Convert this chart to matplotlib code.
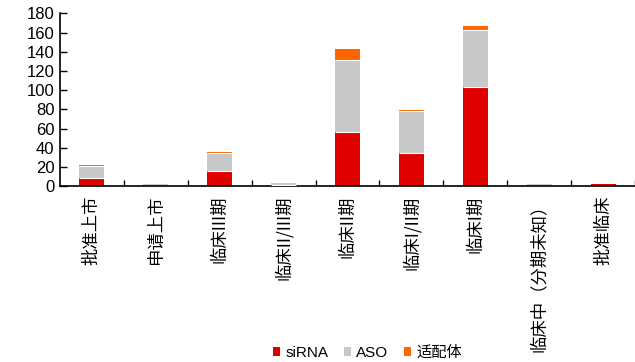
import matplotlib
matplotlib.use('Agg')
import matplotlib.pyplot as plt
import numpy as np

plt.rcParams['font.family'] = ['Liberation Sans', 'Noto Sans CJK SC', 'DejaVu Sans']

# 各研发阶段的寡核苷酸药物数量
stages = ['批准上市', '申请上市', '临床III期', '临床II/III期', '临床II期',
          '临床I/II期', '临床I期', '临床中（分期未知）', '批准临床']
sirna = [8, 0, 16, 1, 56, 34, 103, 0, 2]
aso = [13, 2, 18, 2, 75, 44, 60, 2, 0]
aptamer = [1, 0, 2, 0, 12, 1, 4, 0, 0]

colors = {'siRNA': '#E00000', 'ASO': '#C8C8C8', '适配体': '#FF6600'}

dpi = 100
fig = plt.figure(figsize=(635 / dpi, 362 / dpi), dpi=dpi, facecolor='white')
ax = fig.add_axes([0.0945, 0.486, 0.9055, 0.477])

x = np.arange(len(stages))
width = 0.39
bottom = np.zeros(len(stages))
for name, vals in [('siRNA', sirna), ('ASO', aso), ('适配体', aptamer)]:
    vals = np.array(vals, dtype=float)
    ax.bar(x, vals, width, bottom=bottom, color=colors[name],
           linewidth=0, label=name)
    # 堆叠段之间的白色细分隔线
    if name != 'siRNA':
        mask = (bottom > 0) & (vals > 0)
        ax.hlines(bottom[mask], x[mask] - width / 2, x[mask] + width / 2,
                  colors='white', linewidth=0.8, zorder=3)
    bottom += vals

ax.set_ylim(0, 180)
ax.set_xlim(-0.5, 8.31)
ax.set_yticks(np.arange(0, 181, 20))
ax.tick_params(axis='y', direction='in', length=5, width=1, labelsize=12, pad=4)

# 类别标签放在柱子中心, 刻度线画在类别之间
ax.tick_params(axis='x', which='major', length=0, pad=7)
ax.tick_params(axis='x', which='minor', direction='in', length=4, width=1)
ax.set_xticks(np.arange(0.5, len(stages), 1), minor=True)
ax.set_xticks(x)
ax.set_xticklabels(stages, rotation=90, va='top', ha='center',
                   fontsize=12.5, family=['Noto Sans CJK SC', 'DejaVu Sans'])

for side in ['top', 'right']:
    ax.spines[side].set_visible(False)
ax.spines['left'].set_linewidth(1.2)
ax.spines['bottom'].set_linewidth(1.2)

handles, labels = ax.get_legend_handles_labels()
fig.legend(handles, labels, loc='center', bbox_to_anchor=(0.579, 0.025),
           ncol=3, frameon=False, handlelength=0.46, handleheight=0.46,
           handletextpad=0.33, columnspacing=1.05, borderpad=0.1,
           prop={'family': ['Liberation Sans', 'Noto Sans CJK SC'], 'size': 11})

plt.savefig('out.png', dpi=dpi, facecolor='white')
